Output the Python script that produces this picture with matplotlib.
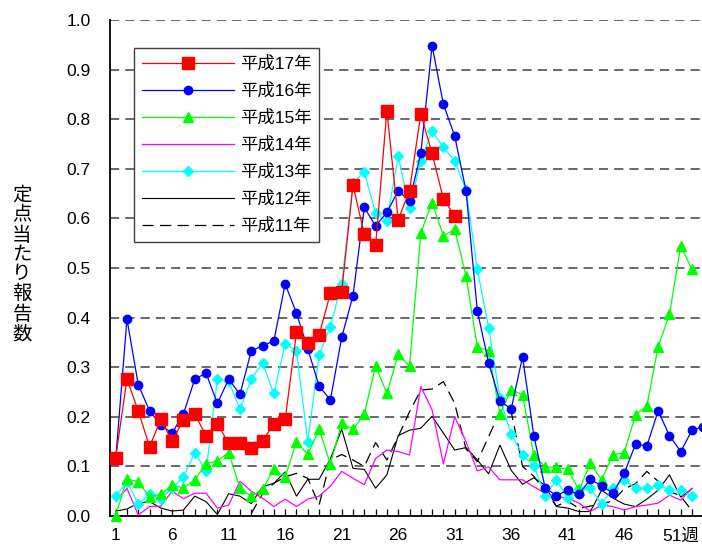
import numpy as np
import matplotlib
matplotlib.use("Agg")
from matplotlib import pyplot as plt

plt.rcParams["font.family"] = ["Liberation Sans", "Noto Sans CJK JP", "DejaVu Sans"]

# weekly reports per sentinel site
h17 = [0.117, 0.276, 0.212, 0.14, 0.195, 0.151, 0.194, 0.205, 0.162, 0.185,
       0.147, 0.147, 0.138, 0.152, 0.185, 0.195, 0.37, 0.349, 0.365, 0.449,
       0.452, 0.667, 0.568, 0.546, 0.817, 0.597, 0.656, 0.81, 0.731, 0.639,
       0.605]
h16 = [0.113, 0.397, 0.265, 0.212, 0.183, 0.167, 0.206, 0.276, 0.288, 0.227,
       0.276, 0.245, 0.333, 0.343, 0.353, 0.468, 0.409, 0.337, 0.262, 0.234,
       0.36, 0.444, 0.622, 0.585, 0.612, 0.656, 0.635, 0.731, 0.948, 0.83,
       0.766, 0.656, 0.414, 0.309, 0.232, 0.216, 0.321, 0.162, 0.057, 0.041,
       0.052, 0.044, 0.074, 0.061, 0.046, 0.086, 0.145, 0.141, 0.212, 0.162,
       0.13, 0.173, 0.18]
h15 = [0.0, 0.075, 0.069, 0.038, 0.044, 0.062, 0.056, 0.073, 0.105, 0.111,
       0.128, 0.056, 0.04, 0.054, 0.094, 0.079, 0.15, 0.124, 0.175, 0.105,
       0.187, 0.175, 0.205, 0.303, 0.247, 0.326, 0.302, 0.571, 0.632, 0.565,
       0.578, 0.484, 0.341, 0.333, 0.205, 0.255, 0.244, 0.123, 0.099, 0.098,
       0.094, 0.052, 0.106, 0.073, 0.123, 0.128, 0.204, 0.222, 0.341, 0.407,
       0.544, 0.497]
h14 = [0.03, 0.056, 0.002, 0.019, 0.02, 0.05, 0.035, 0.046, 0.046, 0.016,
       0.022, 0.07, 0.05, 0.036, 0.019, 0.034, 0.019, 0.034, 0.04, 0.06,
       0.09, 0.076, 0.063, 0.116, 0.133, 0.13, 0.123, 0.261, 0.214, 0.105,
       0.2, 0.15, 0.091, 0.099, 0.073, 0.073, 0.073, 0.059, 0.046, 0.039,
       0.036, 0.026, 0.009, 0.022, 0.019, 0.012, 0.019, 0.022, 0.026, 0.042,
       0.032, 0.056]
h13 = [0.04, 0.069, 0.024, 0.044, 0.034, 0.056, 0.079, 0.128, 0.091, 0.276,
       0.272, 0.215, 0.276, 0.308, 0.247, 0.347, 0.333, 0.15, 0.325, 0.382,
       0.468, 0.671, 0.694, 0.61, 0.595, 0.726, 0.62, 0.716, 0.776, 0.743,
       0.716, 0.657, 0.497, 0.38, 0.237, 0.165, 0.123, 0.101, 0.04, 0.073,
       0.036, 0.054, 0.056, 0.024, 0.057, 0.073, 0.056, 0.056, 0.062, 0.053,
       0.052, 0.04]
h12 = [0.01, 0.014, 0.026, 0.029, 0.016, 0.01, 0.012, 0.04, 0.029, 0.003,
       0.045, 0.04, 0.025, 0.059, 0.066, 0.089, 0.04, 0.074, 0.074, 0.115,
       0.175, 0.096, 0.094, 0.056, 0.083, 0.162, 0.173, 0.177, 0.201, 0.167,
       0.133, 0.138, 0.113, 0.085, 0.143, 0.092, 0.064, 0.077, 0.062, 0.019,
       0.016, 0.009, 0.009, 0.052, 0.036, 0.024, 0.019, 0.034, 0.052, 0.083,
       0.038, 0.055]
# 平成11年 starts at week 13
h11_start = 13
h11 = [0.005, 0.045, 0.066, 0.079, 0.086, 0.076, 0.022, 0.113, 0.124, 0.113,
       0.1, 0.148, 0.113, 0.16, 0.21, 0.254, 0.256, 0.271, 0.227, 0.135,
       0.11, 0.16, 0.21, 0.21, 0.1, 0.08, 0.05, 0.02, 0.03, 0.015,
       0.02, 0.025, 0.03, 0.055, 0.065, 0.09, 0.07, 0.05, 0.04, 0.01]

labels = ["平成17年", "平成16年", "平成15年", "平成14年", "平成13年", "平成12年", "平成11年"]
week_labels = ["1", "6", "11", "16", "21", "26", "31", "36", "41", "46", "51週"]


def weeks(vals, start=1):
    return np.arange(start, start + len(vals))


fig = plt.figure(figsize=(7.02, 5.47), dpi=100)
# axes run past the right edge on purpose, like the cropped original
ax = fig.add_axes([110 / 702, 31 / 547, 599 / 702, 496 / 547])

lw = 0.9
series = [
    (h17, 1, dict(color="#FF0000", marker="s", ms=8.5, lw=lw, zorder=9)),
    (h16, 1, dict(color="#0000FF", marker="o", ms=6, lw=lw, zorder=8)),
    (h15, 1, dict(color="#00FF00", marker="^", ms=6.5, lw=lw, zorder=7)),
    (h14, 1, dict(color="#FF00FF", lw=lw, zorder=5)),
    (h13, 1, dict(color="#00FFFF", marker="D", ms=5, lw=lw, zorder=6)),
    (h12, 1, dict(color="black", lw=0.8, zorder=4)),
    (h11, h11_start, dict(color="black", lw=0.9, ls=(0, (9, 5)), zorder=3)),
]
handles = []
for (vals, start, kw), lab in zip(series, labels):
    (ln,) = ax.plot(weeks(vals, start), vals, label=lab, mec=kw["color"],
                    clip_on=False, **kw)
    handles.append(ln)

ax.set_ylim(0, 1.0)
ax.set_xlim(0.5, 53.5)
ax.set_yticks(np.arange(0, 1.01, 0.1))
ax.set_yticklabels([f"{v:.1f}" for v in np.arange(0, 1.01, 0.1)], fontsize=12.5)
ax.tick_params(axis="y", length=0, pad=14)

ax.set_xticks(np.arange(1, 54))
ax.set_xticklabels([week_labels[(w - 1) // 5] if (w - 1) % 5 == 0 and w <= 51 else ""
                    for w in range(1, 54)], fontsize=12.5)
ax.tick_params(axis="x", direction="in", length=5, width=0.9, pad=9)

for y in np.arange(0.1, 1.01, 0.1):
    ax.axhline(y, color="#404040", lw=1.1, ls=(0, (6, 4)), zorder=1)

for side in ["top", "right"]:
    ax.spines[side].set_visible(False)
ax.spines["left"].set_linewidth(1.3)
ax.spines["bottom"].set_linewidth(1.3)

leg = ax.legend(handles=handles, loc="upper left", bbox_to_anchor=(0.04, 0.944),
                borderaxespad=0, fontsize=12.5, handlelength=5.3, handletextpad=0.35,
                labelspacing=0.62, fancybox=False, framealpha=1, edgecolor="#404040",
                borderpad=0.45)
leg.get_frame().set_linewidth(1.0)
leg.set_zorder(20)

fig.text(22 / 702, 1 - 265 / 547, "\n".join("定点当たり報告数"), ha="center",
         va="center", fontsize=14, linespacing=1.15)

fig.savefig("out.png", dpi=100)
